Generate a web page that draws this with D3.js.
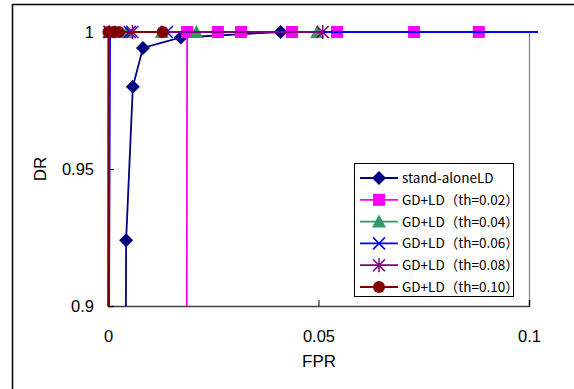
<!DOCTYPE html>
<html>
<head>
<meta charset="utf-8">
<script src="https://cdn.jsdelivr.net/npm/d3@7"></script>
<style>
  body { margin: 0; background: #fff; }
  svg { display: block; font-family: "Liberation Sans", Arial, sans-serif; }
</style>
</head>
<body>
<div id="chart"></div>
<script>
// values
let xTicks = [0, 0.05, 0.1];
let yTicks = [0.9, 0.95, 1];
let xTickLabels = ["0", "0.05", "0.1"];
let yTickLabels = ["0.9", "0.95", "1"];

let seriesNames = ["stand-aloneLD", "GD+LD（th=0.02）", "GD+LD（th=0.04）",
  "GD+LD（th=0.06）", "GD+LD（th=0.08）", "GD+LD（th=0.10）"];

let standAloneFPR = [0.0041, 0.0043, 0.0059, 0.0083, 0.0173, 0.0410];
let standAloneDR  = [0.80, 0.924, 0.980, 0.9942, 0.998, 1];

let th02FPR = [0.0186, 0.0188, 0.0261, 0.0316, 0.0437, 0.0544, 0.0727, 0.0881];
let th02DR  = [0.80, 1, 1, 1, 1, 1, 1, 1];

let th04FPR = [0, 0.0003, 0.0045, 0.0128, 0.0210, 0.0497];
let th04DR  = [0.80, 1, 1, 1, 1, 1];

let th06FPR = [0, 0.0005, 0.0052, 0.0140, 0.2];
let th06DR  = [0.80, 1, 1, 1, 1];

let th08FPR = [0, 0.0003, 0.0058, 0.0510];
let th08DR  = [0.80, 1, 1, 1];

let th10FPR = [0, 0.0001, 0.0013, 0.0026, 0.0130];
let th10DR  = [0.80, 1, 1, 1, 1];

let colors = ["#000080", "#ff00ff", "#339966", "#0000ff", "#800080", "#800000"];
let shapes = ["diamond", "square", "triangle", "cross", "star", "circle"];

let width = 574, height = 389;
let x = d3.scaleLinear().domain([0, 0.1]).range([108, 529]);
let y = d3.scaleLinear().domain([0.9, 1]).range([306, 32]);

let svg = d3.select("#chart").append("svg")
  .attr("width", width)
  .attr("height", height);

// chart area border (runs off the picture on right and bottom)
svg.append("rect")
  .attr("x", 12.5).attr("y", 4.5)
  .attr("width", 600).attr("height", 400)
  .attr("fill", "#fff").attr("stroke", "#000").attr("stroke-width", 1.5);

// plot area right edge
svg.append("line")
  .attr("x1", 529.5).attr("x2", 529.5)
  .attr("y1", 32).attr("y2", 306)
  .attr("stroke", "#808080").attr("stroke-width", 1.2);

let xAxis = d3.axisBottom(x).tickValues(xTicks).tickSize(-6).tickFormat((d, i) => xTickLabels[i]);
let yAxis = d3.axisLeft(y).tickValues(yTicks).tickSize(-6).tickFormat((d, i) => yTickLabels[i]);

let gx = svg.append("g").attr("transform", "translate(0,306)").call(xAxis);
gx.select(".domain").attr("stroke", "#404040").attr("stroke-width", 1.5);
gx.selectAll(".tick line").attr("stroke", "#000");
gx.selectAll(".tick text").attr("y", 24).attr("font-size", 16.5).attr("fill", "#000")
  .attr("font-family", "Liberation Sans, Arial, sans-serif");

let gy = svg.append("g").attr("transform", "translate(108,0)").call(yAxis);
gy.select(".domain").attr("stroke", "#404040").attr("stroke-width", 1.5);
gy.selectAll(".tick line").attr("stroke", "#000");
gy.selectAll(".tick text").attr("x", -14).attr("font-size", 16.5).attr("fill", "#000")
  .attr("font-family", "Liberation Sans, Arial, sans-serif");

svg.append("text")
  .attr("x", 319).attr("y", 367)
  .attr("text-anchor", "middle")
  .attr("font-size", 17)
  .text("FPR");

svg.append("text")
  .attr("transform", "translate(46,169) rotate(-90)")
  .attr("text-anchor", "middle")
  .attr("font-size", 17)
  .text("DR");

svg.append("clipPath").attr("id", "plotclip")
  .append("rect").attr("x", 100).attr("y", 20).attr("width", 438).attr("height", 286);

let series = [
  [standAloneFPR, standAloneDR],
  [th02FPR, th02DR],
  [th04FPR, th04DR],
  [th06FPR, th06DR],
  [th08FPR, th08DR],
  [th10FPR, th10DR]
];

function drawMarker(g, shape, color, cx, cy) {
  let tr = "translate(" + cx + "," + cy + ")";
  if (shape === "diamond") {
    g.append("path").attr("d", "M0,-7L7,0L0,7L-7,0Z")
      .attr("transform", tr).attr("fill", color);
  } else if (shape === "square") {
    g.append("rect").attr("x", cx - 6).attr("y", cy - 6).attr("width", 12).attr("height", 12)
      .attr("fill", color);
  } else if (shape === "triangle") {
    g.append("path").attr("d", "M0,-7L7,6L-7,6Z")
      .attr("transform", tr).attr("fill", color);
  } else if (shape === "cross") {
    g.append("path").attr("d", "M-6,-6L6,6M-6,6L6,-6")
      .attr("transform", tr)
      .attr("stroke", color).attr("stroke-width", 1.5).attr("fill", "none");
  } else if (shape === "star") {
    g.append("path").attr("d", "M-6,-6L6,6M-6,6L6,-6M0,-7L0,7")
      .attr("transform", tr)
      .attr("stroke", color).attr("stroke-width", 1.5).attr("fill", "none");
  } else {
    g.append("circle").attr("cx", cx).attr("cy", cy).attr("r", 6).attr("fill", color);
  }
}

let line = d3.line().x(d => x(d[0])).y(d => y(d[1]));
let plot = svg.append("g").attr("clip-path", "url(#plotclip)");

// later series sit on top, as in the spreadsheet original
series.forEach(function(s, i) {
  let pts = s[0].map((v, k) => [v, s[1][k]]);
  plot.append("path").datum(pts)
    .attr("d", line)
    .attr("fill", "none")
    .attr("stroke", colors[i])
    .attr("stroke-width", 1.8);
  s[0].forEach(function(v, k) {
    if (s[1][k] < 0.9 || v > 0.1) return;
    drawMarker(plot, shapes[i], colors[i], x(v), y(s[1][k]));
  });
});

// legend
let legend = svg.append("g");
legend.append("rect")
  .attr("x", 354.5).attr("y", 163.5).attr("width", 159).attr("height", 133)
  .attr("fill", "#fff").attr("stroke", "#000").attr("stroke-width", 1);

seriesNames.forEach(function(name, i) {
  let ly = 178 + i * 21.8;
  legend.append("line")
    .attr("x1", 360).attr("x2", 398).attr("y1", ly).attr("y2", ly)
    .attr("stroke", colors[i]).attr("stroke-width", 1.8);
  drawMarker(legend, shapes[i], colors[i], 379, ly);
  legend.append("text")
    .attr("x", 402).attr("y", ly + 5)
    .attr("font-size", 13.5)
    .attr("font-family", "Noto Sans CJK JP, sans-serif")
    .text(name);
});
</script>
</body>
</html>
